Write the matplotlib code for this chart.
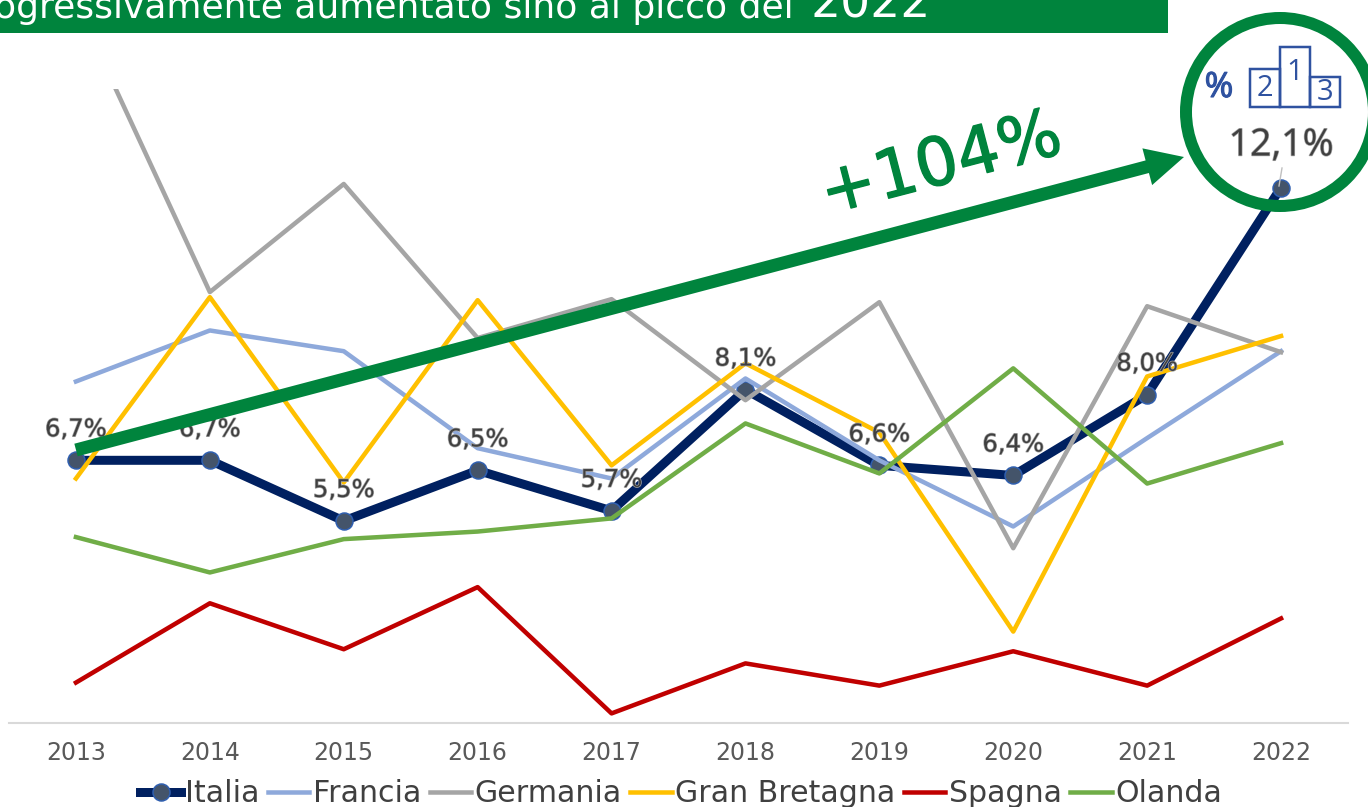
import matplotlib
matplotlib.use("Agg")
import matplotlib.pyplot as plt
import matplotlib.patheffects as pe
from matplotlib.patches import Circle, FancyArrow, Rectangle

years = [2013, 2014, 2015, 2016, 2017, 2018, 2019, 2020, 2021, 2022]
italia = [6.7, 6.7, 5.5, 6.5, 5.7, 8.1, 6.6, 6.4, 8.0, 12.1]
francia = [8.26, 9.27, 8.86, 6.94, 6.34, 8.32, 6.70, 5.39, 7.14, 8.86]
germania = [15.75, 10.03, 12.17, 9.12, 9.89, 7.89, 9.83, 4.96, 9.75, 8.84]
gran_bretagna = [6.34, 9.93, 6.26, 9.87, 6.60, 8.62, 7.25, 3.31, 8.36, 9.16]
spagna = [2.30, 3.87, 2.96, 4.19, 1.69, 2.68, 2.24, 2.92, 2.24, 3.57]
olanda = [5.18, 4.48, 5.14, 5.29, 5.55, 7.43, 6.44, 8.52, 6.24, 7.04]

GREEN = "#00843D"
BLUE = "#2F52A0"
W, H = 1368, 807
px = 72 / 100  # one pixel in points

plt.rcParams["font.family"] = ["DejaVu Sans"]

fig = plt.figure(figsize=(W / 100, H / 100), dpi=100)
ax = fig.add_axes([9 / W, 1 - 723 / H, (1348 - 9) / W, (723 - 89) / H])

x = list(range(len(years)))
ax.plot(x, italia, color="#002060", lw=9 * px, label="Italia", marker="o", ms=17 * px,
        mfc="#44546A", mec="#2F5FB0", mew=1.5 * px, zorder=2)
ax.plot(x, francia, color="#8EA9DB", lw=4.5 * px, label="Francia", zorder=2)
ax.plot(x, germania, color="#A5A5A5", lw=4.5 * px, label="Germania", zorder=2)
ax.plot(x, gran_bretagna, color="#FFC000", lw=4.5 * px, label="Gran Bretagna", zorder=2)
ax.plot(x, spagna, color="#C00000", lw=4.5 * px, label="Spagna", zorder=2)
ax.plot(x, olanda, color="#70AD47", lw=4.5 * px, label="Olanda", zorder=2)

ax.set_xlim(-0.5, 9.5)
ax.set_ylim(1.5, 14.05)
ax.set_xticks(x)
ax.set_xticklabels(years, fontsize=17, color="#595959")
ax.tick_params(axis="x", length=0, pad=13)
ax.yaxis.set_visible(False)
for s in ["top", "left", "right"]:
    ax.spines[s].set_visible(False)
ax.spines["bottom"].set_color("#D9D9D9")
ax.spines["bottom"].set_linewidth(1.5)

leg = ax.legend(loc="upper center", bbox_to_anchor=(0.5019, -0.0885), ncol=6, frameon=False,
                fontsize=21.6, labelcolor="#404040", handlelength=1.38, handletextpad=0.12,
                columnspacing=0.28, borderpad=0, borderaxespad=0)

shadow = [pe.withStroke(linewidth=1, foreground="#A6A6A6")]
for i, v in enumerate(italia[:-1]):
    ax.annotate(f"{v:.1f}".replace(".", ",") + "%", (i, v), xytext=(0, 31 * px), textcoords="offset points",
                ha="center", va="center", fontsize=17.5, color="#404040", path_effects=shadow, zorder=5)
ax.annotate(f"{italia[-1]:.1f}".replace(".", ",") + "%", (9, italia[-1]), xytext=(0, 42 * px),
            textcoords="offset points", ha="center", va="center", fontsize=27, family="Open Sans",
            color="#404040", path_effects=shadow, zorder=5, annotation_clip=False)

# overlay in pixel coordinates for the slide decorations
ov = fig.add_axes([0, 0, 1, 1], facecolor="none")
ov.set_xlim(0, W)
ov.set_ylim(H, 0)
ov.axis("off")

ov.add_patch(Rectangle((0, -5), 1168, 38, color=GREEN, lw=0))
ov.text(-6, 18, "ogressivamente aumentato sino al picco del", color="white", fontsize=26,
        ha="left", va="baseline")
ov.text(811, 18, "2022", color="white", fontsize=34, ha="left", va="baseline")

ov.add_patch(FancyArrow(76, 450, 1108, -293, width=13, head_width=38, head_length=38,
                        length_includes_head=True, color=GREEN, lw=0))
ov.text(941, 165, "+104%", color=GREEN, fontsize=48, rotation=14.6, ha="center", va="center",
        rotation_mode="anchor", path_effects=[pe.withStroke(linewidth=1, foreground=GREEN)])

ov.add_patch(Circle((1280, 112), 94, fill=False, ec=GREEN, lw=12 * px))
ov.plot([1282, 1279], [168, 186], color="#BFBFBF", lw=1)

ov.text(1219, 88, "%", color=BLUE, fontsize=25, family="Open Sans", ha="center", va="center",
        path_effects=[pe.withStroke(linewidth=0.8, foreground=BLUE)])
for x0, top, w, n, ty in [(1250, 69, 30, "2", 89), (1280, 47, 30, "1", 73), (1310, 77, 30, "3", 92)]:
    ov.add_patch(Rectangle((x0, top), w, 107 - top, fill=False, ec=BLUE, lw=2.5 * px))
    ov.text(x0 + w / 2, ty, n, color=BLUE, fontsize=21, family="Open Sans", ha="center", va="center")

fig.savefig("out.png", dpi=100)
